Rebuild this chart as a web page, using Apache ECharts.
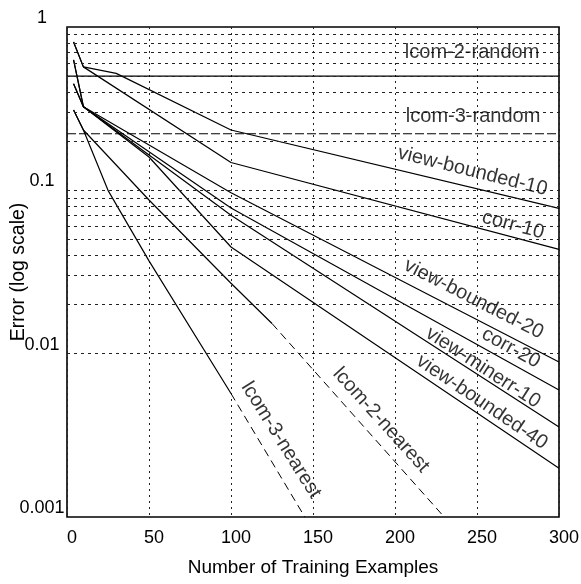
<!DOCTYPE html>
<html><head><meta charset="utf-8">
<script src="https://cdn.jsdelivr.net/npm/echarts@6/dist/echarts.min.js"></script>
<style>html,body{margin:0;padding:0;background:#fff}#c{width:581px;height:584px}</style>
</head><body><div id="c"></div>
<script>
// ---- axis ticks ----
const xTicks = [0, 50, 100, 150, 200, 250, 300];
const yTicks = [0.001, 0.01, 0.1, 1];
const gridValues = [0.002,0.003,0.004,0.005,0.006,0.007,0.008,0.009,0.01,
                    0.02,0.03,0.04,0.05,0.06,0.07,0.08,0.09,0.1,
                    0.2,0.3,0.4,0.5,0.6,0.7,0.8,0.9];

// ---- series values [examples, error] ----
const lcom2Random   = [[0,0.5],[300,0.5]];
const lcom3Random   = [[0,0.222],[300,0.222]];
const viewBounded10 = [[4,0.81],[10,0.57],[30,0.52],[100,0.234],[300,0.0776]];
const corr10        = [[4,0.81],[10,0.57],[100,0.148],[300,0.0435]];
const viewBounded20 = [[4,0.63],[10,0.325],[100,0.0967],[300,0.0089]];
const corr20        = [[4,0.63],[10,0.325],[100,0.078],[300,0.006]];
const viewMinerr10  = [[4,0.45],[10,0.325],[100,0.0703],[300,0.00356]];
const viewBounded40 = [[4,0.45],[10,0.325],[50,0.16],[100,0.045],[300,0.00199]];
const lcom2Nearest  = [[4,0.31],[10,0.234],[50,0.0873],[100,0.027],[125,0.0153]];
const lcom2NearestExt = [[125,0.0153],[230,0.001]];
const lcom3Nearest  = [[4,0.31],[10,0.234],[25,0.10],[50,0.037],[100,0.0057]];
const lcom3NearestExt = [[100,0.0057],[145,0.001]];

// ---- series label anchors (data space) ----
const labelTexts   = ['lcom-2-random','lcom-3-random','view-bounded-10','corr-10','view-bounded-20',
                      'corr-20','view-minerr-10','view-bounded-40','lcom-2-nearest','lcom-3-nearest'];
const labelX       = [247, 247.6, 247.3, 272, 248, 270.7, 253.7, 253, 191.5, 130.5];
const labelY       = [0.703, 0.285, 0.131, 0.0613, 0.0216, 0.01082, 0.00822, 0.00505, 0.00392, 0.00296];
const labelRotate  = [0, 0, -14, -15, -27, -29, -33, -34, -48, -58];

const FONT = '"Liberation Sans", Arial, Helvetica, sans-serif';
const chart = echarts.init(document.getElementById('c'), null, {renderer:'canvas'});

const solid = {color:'#000', width:1.2, type:'solid'};
function lineSeries(name, data, ls) {
  return {name, type:'line', data, symbol:'none', silent:true, animation:false,
          lineStyle: ls || solid, itemStyle:{color:'#000'}, z:3};
}

const series = [
  Object.assign(lineSeries('lcom-2-random', lcom2Random), {
    markLine: {
      silent:true, symbol:'none', animation:false, label:{show:false},
      lineStyle:{color:'#222', width:1, type:[3,4]},
      data: gridValues.map(v => ({yAxis:v}))
    }
  }),
  lineSeries('lcom-3-random', lcom3Random, {color:'#000', width:1.2, type:[9,3]}),
  lineSeries('view-bounded-10', viewBounded10),
  lineSeries('corr-10', corr10),
  lineSeries('view-bounded-20', viewBounded20),
  lineSeries('corr-20', corr20),
  lineSeries('view-minerr-10', viewMinerr10),
  lineSeries('view-bounded-40', viewBounded40),
  lineSeries('lcom-2-nearest', lcom2Nearest),
  lineSeries('lcom-2-nearest (ext)', lcom2NearestExt, {color:'#000', width:1, type:[8,5]}),
  lineSeries('lcom-3-nearest', lcom3Nearest),
  lineSeries('lcom-3-nearest (ext)', lcom3NearestExt, {color:'#000', width:1, type:[8,5]}),
  {
    name:'labels', type:'scatter', symbolSize:0, silent:true, animation:false, z:5,
    data: labelTexts.map((t,i) => ({
      value:[labelX[i], labelY[i]],
      label:{show:true, position:'inside', formatter:t, rotate:labelRotate[i],
             color:'#000', fontSize:20, fontFamily:FONT}
    }))
  }
];

chart.setOption({
  backgroundColor:'#fff',
  animation:false,
  grid:{left:67, right:22, top:27, bottom:67, containLabel:false, outerBoundsMode:'none',
        show:true, borderColor:'#000', borderWidth:1.6, backgroundColor:'transparent'},
  xAxis:{
    type:'value', min:xTicks[0], max:xTicks[xTicks.length-1], interval:50,
    name:'Number of Training Examples', nameLocation:'middle', nameGap:41, nameMoveOverlap:false,
    nameTextStyle:{fontSize:19, fontFamily:FONT, color:'#000'},
    axisLine:{show:false}, axisTick:{show:false},
    axisLabel:{fontSize:18, fontFamily:FONT, color:'#000', margin:12, padding:[0,0,0,10]},
    splitLine:{show:true, lineStyle:{color:'#222', width:1, type:[2,4]}}
  },
  yAxis:{
    type:'log', logBase:10, min:yTicks[0], max:yTicks[yTicks.length-1],
    name:'Error (log scale)', nameLocation:'middle', nameGap:38, nameRotate:90, nameMoveOverlap:false,
    nameTextStyle:{fontSize:19.5, fontFamily:FONT, color:'#000'},
    axisLine:{show:false}, axisTick:{show:false},
    axisLabel:{fontSize:18, fontFamily:FONT, color:'#000', margin:25, align:'center', verticalAlign:'bottom',
               formatter: v => (yTicks.find(t => Math.abs(t - v) / t < 1e-6) ?? v).toString()},
    splitLine:{show:false}
  },
  series
});
</script></body></html>
